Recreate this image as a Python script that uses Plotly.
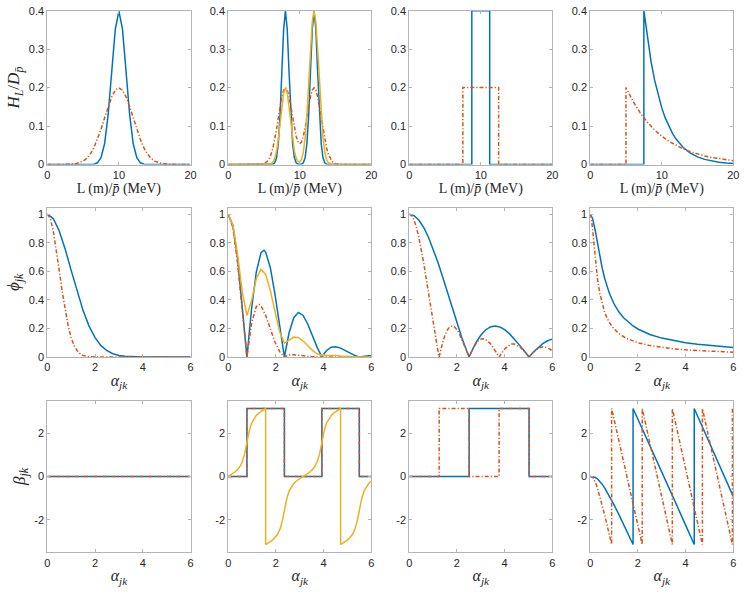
import plotly.graph_objects as go
from plotly.subplots import make_subplots

# ---------------- data ----------------
PI = 3.1416

# Row 1, col 1 : single Gaussians
L11 = [0, 2, 4, 5, 5.5, 6, 6.5, 7, 7.5, 8, 8.5, 9, 9.5, 10, 10.5, 11, 11.5, 12,
       12.5, 13, 13.5, 14, 14.5, 15, 16, 18, 20]
H11_blue = [0, 0, 0, 0, 0, 0.0001, 0.0009, 0.0044, 0.0175, 0.054, 0.1295, 0.242, 0.352,
            0.399, 0.352, 0.242, 0.1295, 0.054, 0.0175, 0.0044, 0.0009, 0.0001, 0, 0, 0, 0, 0]
H11_orange = [0, 0.0001, 0.0022, 0.0088, 0.0159, 0.027, 0.0432, 0.0648, 0.0913, 0.121,
              0.1506, 0.176, 0.1934, 0.1995, 0.1934, 0.176, 0.1506, 0.121, 0.0913, 0.0648,
              0.0432, 0.027, 0.0159, 0.0088, 0.0022, 0.0001, 0]

# Row 1, col 2 : double Gaussians
L12 = [0, 4, 5, 5.25, 5.5, 5.75, 6, 6.25, 6.5, 6.75, 7, 7.25, 7.5, 7.75, 8, 8.25, 8.5,
       8.75, 9, 9.25, 9.5, 9.75, 10, 10.25, 10.5, 10.75, 11, 11.25, 11.5, 11.75, 12,
       12.25, 12.5, 12.75, 13, 13.25, 13.5, 13.75, 14, 14.25, 14.5, 14.75, 15, 16, 20]
H12_blue = [0, 0, 0, 0, 0, 0, 0.0001, 0.0009, 0.0044, 0.0175, 0.054, 0.1295, 0.242, 0.352,
            0.399, 0.352, 0.242, 0.1295, 0.054, 0.0175, 0.0044, 0.0009, 0.0003, 0.0009,
            0.0044, 0.0175, 0.054, 0.1295, 0.242, 0.352, 0.399, 0.352, 0.242, 0.1295,
            0.054, 0.0175, 0.0044, 0.0009, 0.0001, 0, 0, 0, 0, 0, 0]
H12_orange = [0, 0.0001, 0.0022, 0.0045, 0.0088, 0.0159, 0.027, 0.0432, 0.0648, 0.0913,
              0.121, 0.1506, 0.1761, 0.1933, 0.1996, 0.1935, 0.1765, 0.1516, 0.1232,
              0.0958, 0.0736, 0.0591, 0.054, 0.0591, 0.0736, 0.0958, 0.1232, 0.1516,
              0.1765, 0.1935, 0.1996, 0.1933, 0.1761, 0.1506, 0.121, 0.0913, 0.0648,
              0.0432, 0.027, 0.0159, 0.0088, 0.0045, 0.0022, 0.0001, 0]
H12_yellow = [0, 0, 0, 0, 0.0002, 0.0007, 0.0022, 0.0064, 0.0159, 0.0344, 0.0648, 0.106,
              0.1506, 0.186, 0.1995, 0.186, 0.1506, 0.106, 0.0648, 0.0345, 0.0163, 0.0077,
              0.0066, 0.0134, 0.032, 0.0688, 0.1296, 0.212, 0.301, 0.372, 0.399, 0.372,
              0.301, 0.212, 0.1296, 0.0688, 0.0318, 0.0127, 0.0044, 0.0013, 0.0004, 0.0001,
              0, 0, 0]

# Row 1, col 3 : boxes
L13_blue = [0, 8.75, 8.75, 11.25, 11.25, 20]
H13_blue = [0, 0, 0.4, 0.4, 0, 0]
L13_orange = [0, 7.5, 7.5, 12.5, 12.5, 20]
H13_orange = [0, 0, 0.2, 0.2, 0, 0]

# Row 1, col 4 : exponentials
L14_blue = [0, 7.5, 7.5, 8, 8.5, 9, 9.5, 10, 10.5, 11, 11.5, 12, 13, 14, 15, 16, 17, 18, 19, 20]
H14_blue = [0, 0, 0.4, 0.3275, 0.2681, 0.2195, 0.1797, 0.1472, 0.1205, 0.0986, 0.0808,
            0.0661, 0.0443, 0.0297, 0.0199, 0.0133, 0.0089, 0.006, 0.004, 0.0027]
L14_orange = [0, 5, 5, 6, 7, 8, 9, 10, 11, 12, 13, 14, 15, 16, 17, 18, 19, 20]
H14_orange = [0, 0, 0.2, 0.1637, 0.1341, 0.1098, 0.0899, 0.0736, 0.0602, 0.0493, 0.0404,
              0.0331, 0.0271, 0.0222, 0.0181, 0.0149, 0.0122, 0.01]

# Row 2, col 1
A21_blue = [0, 0.25, 0.5, 0.75, 1, 1.25, 1.5, 1.75, 2, 2.25, 2.5, 2.75, 3, 3.25, 3.5, 4, 5, 6]
P21_blue = [1, 0.9692, 0.8825, 0.7548, 0.6065, 0.4578, 0.3247, 0.2163, 0.1353, 0.0796,
            0.0439, 0.0228, 0.0111, 0.0051, 0.0022, 0.0003, 0, 0]
A21_orange = [0, 0.125, 0.25, 0.375, 0.5, 0.625, 0.75, 0.875, 1, 1.125, 1.25, 1.375, 1.5,
              1.75, 2, 3, 6]
P21_orange = [1, 0.9692, 0.8825, 0.7548, 0.6065, 0.4578, 0.3247, 0.2163, 0.1353, 0.0796,
              0.0439, 0.0228, 0.0111, 0.0022, 0.0003, 0, 0]

# Row 2, col 2
A22_blue = [0, 0.1963, 0.3927, 0.589, 0.7854, 0.9817, 1.1781, 1.3744, 1.5, 1.5708, 1.7671,
            1.9635, 2.1598, 2.3562, 2.5525, 2.7489, 2.9452, 3.1416, 3.3379, 3.5343, 3.7306,
            3.927, 4.1233, 4.3197, 4.516, 4.7124, 4.9087, 5.1051, 5.3014, 5.4978, 5.6941,
            5.8905, 6.0]
P22_blue = [1, 0.9195, 0.6936, 0.3665, 0, 0.3393, 0.5945, 0.7296, 0.747, 0.7346, 0.6253,
            0.4367, 0.2136, 0, 0.1695, 0.275, 0.3124, 0.2912, 0.2295, 0.1484, 0.0672, 0,
            0.0457, 0.0687, 0.0722, 0.0623, 0.0455, 0.0272, 0.0114, 0, 0.0067, 0.0093, 0.0094]
A22_orange = [0, 0.1963, 0.3927, 0.589, 0.7854, 0.9817, 1.1781, 1.3, 1.3744, 1.5708, 1.7671,
              1.9635, 2.1598, 2.3562, 2.5525, 2.7489, 2.9452, 3.1416, 3.3379, 3.5343, 3.7306,
              3.927, 4.1233, 4.3197, 4.516, 4.7124, 4.9087, 5.1051, 5.3014, 5.4978, 5.6941,
              5.8905, 6.0]
P22_orange = [1, 0.9063, 0.6546, 0.3217, 0, 0.2364, 0.3533, 0.3681, 0.3593, 0.2912, 0.1938,
              0.1029, 0.0372, 0, 0.0147, 0.0162, 0.0121, 0.0072, 0.0035, 0.0013, 0.0004, 0,
              0, 0, 0, 0, 0, 0, 0, 0, 0, 0, 0]
A22_yellow = [0, 0.1963, 0.3927, 0.589, 0.7854, 0.9817, 1.1781, 1.3744, 1.5708, 1.7671,
              1.9635, 2.1598, 2.3562, 2.5525, 2.7489, 2.9452, 3.1416, 3.3379, 3.5343, 3.7306,
              3.927, 4.1233, 4.3197, 4.516, 4.7124, 4.9087, 5.1051, 5.3014, 5.4978, 5.6941,
              5.8905, 6.0]
P22_yellow = [1, 0.9248, 0.7203, 0.4548, 0.2906, 0.3965, 0.5476, 0.613, 0.5779, 0.466,
              0.3164, 0.1742, 0.0971, 0.1155, 0.139, 0.1357, 0.1115, 0.0784, 0.0464, 0.0223,
              0.0108, 0.0112, 0.0118, 0.0101, 0.0072, 0.0044, 0.0023, 0.0009, 0.0004, 0.0004,
              0.0004, 0.0003]

# Row 2, col 3
A23_blue = [0, 0.2, 0.4, 0.6, 0.8, 1.0, 1.2, 1.4, 1.6, 1.8, 2.0, 2.2, 2.4, 2.5133, 2.6, 2.8,
            3.0, 3.2, 3.4, 3.6, 3.8, 4.0, 4.2, 4.4, 4.6, 4.8, 5.0265, 5.2, 5.4, 5.6, 5.8, 6.0]
P23_blue = [1, 0.9896, 0.9589, 0.9089, 0.8415, 0.7592, 0.665, 0.5623, 0.4546, 0.3458, 0.2394,
            0.1388, 0.047, 0, 0.0333, 0.1002, 0.1524, 0.1892, 0.2106, 0.2172, 0.2104, 0.1918,
            0.1636, 0.1283, 0.0884, 0.0466, 0, 0.0331, 0.0667, 0.0939, 0.1135, 0.1251]
A23_orange = [0, 0.1, 0.2, 0.3, 0.4, 0.5, 0.6, 0.7, 0.8, 0.9, 1.0, 1.1, 1.2, 1.2566,
              1.3, 1.4, 1.5, 1.6, 1.7, 1.8, 1.9, 2.0, 2.1, 2.2, 2.3, 2.4, 2.5133,
              2.6, 2.7, 2.8, 2.9, 3.0, 3.1, 3.2, 3.3, 3.4, 3.5, 3.6, 3.7, 3.7699,
              3.8, 3.9, 4.0, 4.1, 4.2, 4.3, 4.4, 4.5, 4.6, 4.7, 4.8, 4.9, 5.0, 5.0265,
              5.1, 5.2, 5.3, 5.4, 5.5, 5.6, 5.7, 5.8, 5.9, 6.0]
P23_orange = [1, 0.9896, 0.9589, 0.9089, 0.8415, 0.7592, 0.665, 0.5623, 0.4546, 0.3458,
              0.2394, 0.1388, 0.047, 0,
              0.0333, 0.1002, 0.1524, 0.1892, 0.2106, 0.2172, 0.2104, 0.1918, 0.1636, 0.1283,
              0.0884, 0.0466, 0,
              0.0331, 0.0667, 0.0939, 0.1135, 0.1251, 0.1283, 0.1237, 0.1118, 0.0939, 0.0714,
              0.0458, 0.0188, 0,
              0.0079, 0.0328, 0.0544, 0.0717, 0.0838, 0.0902, 0.0909, 0.086, 0.0761, 0.062,
              0.0447, 0.0254, 0.0053, 0,
              0.0143, 0.0323, 0.0477, 0.0595, 0.0673, 0.0708, 0.0697, 0.0645, 0.0555, 0.0434]

# Row 2, col 4
A24_blue = [0, 0.1, 0.2, 0.3, 0.4, 0.5, 0.6, 0.7, 0.8, 1.0, 1.2, 1.4, 1.6, 1.8, 2.0, 2.5,
            3.0, 3.5, 4.0, 4.5, 5.0, 5.5, 6.0]
P24_blue = [1, 0.9701, 0.8944, 0.8, 0.7071, 0.6247, 0.5547, 0.4961, 0.4472, 0.3714, 0.3162,
            0.2747, 0.2425, 0.2169, 0.1961, 0.158, 0.1322, 0.1135, 0.0995, 0.0885, 0.0797,
            0.0725, 0.0665]
A24_orange = [0, 0.05, 0.1, 0.15, 0.2, 0.25, 0.3, 0.4, 0.5, 0.6, 0.7, 0.8, 1.0, 1.25, 1.5,
              2.0, 2.5, 3.0, 3.5, 4.0, 5.0, 6.0]
P24_orange = [1, 0.9701, 0.8944, 0.8, 0.7071, 0.6247, 0.5547, 0.4472, 0.3714, 0.3162,
              0.2747, 0.2425, 0.1961, 0.158, 0.1322, 0.0995, 0.0797, 0.0665, 0.0571, 0.0499,
              0.04, 0.0333]

# Row 3, col 1
A31 = [0, 6]
B31_blue = [0, 0]
B31_orange = [0, 0]

# Row 3, col 2
A32_step = [0, 0.7854, 0.7854, 2.3562, 2.3562, 3.927, 3.927, 5.4978, 5.4978, 6]
B32_step = [0, 0, PI, PI, 0, 0, PI, PI, 0, 0]
A32_yellow = [0, 0.0982, 0.1963, 0.2945, 0.3927, 0.4909, 0.589, 0.6872, 0.7854, 0.8836,
              0.9817, 1.0799, 1.1781, 1.2763, 1.3744, 1.4726, 1.5708, 1.5708, 1.669, 1.7671,
              1.8653, 1.9635, 2.0617, 2.1598, 2.258, 2.3562, 2.4544, 2.5525, 2.6507, 2.7489,
              2.8471, 2.9452, 3.0434, 3.1416, 3.2398, 3.3379, 3.4361, 3.5343, 3.6325, 3.7306,
              3.8288, 3.927, 4.0252, 4.1233, 4.2215, 4.3197, 4.4179, 4.516, 4.6142, 4.7124,
              4.7124, 4.8106, 4.9087, 5.0069, 5.1051, 5.2033, 5.3014, 5.3996, 5.4978, 5.596,
              5.6941, 5.7923, 5.8905, 5.9887, 6.0]
B32_yellow = [0, 0.0662, 0.1372, 0.2191, 0.3218, 0.4627, 0.6778, 1.0327, 1.5708, 2.1089,
              2.4638, 2.6789, 2.8198, 2.9225, 3.0044, 3.0754, 3.1416, -3.1416, -3.0754,
              -3.0044, -2.9225, -2.8198, -2.6789, -2.4638, -2.1089, -1.5708, -1.0327, -0.6778,
              -0.4627, -0.3218, -0.2191, -0.1372, -0.0662, 0, 0.0662, 0.1372, 0.2191, 0.3218,
              0.4627, 0.6778, 1.0327, 1.5708, 2.1089, 2.4638, 2.6789, 2.8198, 2.9225, 3.0044,
              3.0754, 3.1416, -3.1416, -3.0754, -3.0044, -2.9225, -2.8198, -2.6789, -2.4638,
              -2.1089, -1.5708, -1.0327, -0.6778, -0.4627, -0.3218, -0.2191, -0.2085]

# Row 3, col 3
A33_blue = [0, 2.5133, 2.5133, 5.0265, 5.0265, 6]
B33_blue = [0, 0, PI, PI, 0, 0]
A33_orange = [0, 1.2566, 1.2566, 2.5133, 2.5133, 3.7699, 3.7699, 5.0265, 5.0265, 6]
B33_orange = [0, 0, PI, PI, 0, 0, PI, PI, 0, 0]

# Row 3, col 4
A34_blue = [0, 0.1, 0.2, 0.3, 0.4, 0.5, 0.6, 0.8, 1.0, 1.2, 1.4, 1.6, 1.7974, 1.7974, 2.0,
            2.5, 3.0, 3.5, 4.0, 4.3617, 4.3617, 4.5, 5.0, 5.5, 6.0]
B34_blue = [0, -0.005, -0.0364, -0.1065, -0.2146, -0.3539, -0.5172, -0.8929, -1.3097,
            -1.751, -2.2075, -2.6742, -PI, PI, 2.6566, 1.4452, 0.2214, -1.0098, -2.2457,
            -PI, PI, 2.7986, 1.5573, 0.3146, -0.9294]
A34_orange = [0, 0.05, 0.1, 0.15, 0.2, 0.25, 0.3, 0.4, 0.5, 0.6, 0.7, 0.8, 0.8987, 0.8987,
              1.0, 1.25, 1.5, 1.75, 2.0, 2.1809, 2.1809, 2.25, 2.5, 2.75, 3.0, 3.25, 3.4442,
              3.4442, 3.5, 4.0, 4.5, 4.7039, 4.7039, 5.0, 5.5, 5.9623, 5.9623, 6.0]
B34_orange = [0, -0.005, -0.0364, -0.1065, -0.2146, -0.3539, -0.5172, -0.8929, -1.3097,
              -1.751, -2.2075, -2.6742, -PI, PI, 2.6566, 1.4452, 0.2214, -1.0098, -2.2457,
              -PI, PI, 2.7986, 1.5573, 0.3146, -0.9294, -2.1743, -PI, PI, 2.8633, 0.3704,
              -2.124, -PI, PI, 1.6635, -0.8329, -PI, PI, 2.9534]

# tick labels
TOP_XT = [0, 10, 20]
TOP_YT = [0, 0.1, 0.2, 0.3, 0.4]
MID_YT = [0, 0.2, 0.4, 0.6, 0.8, 1]
AL_XT = [0, 2, 4, 6]
BOT_YT = [-2, 0, 2]
BOT_YT_TEXT = ["-2", "0", "2"]

# ---------------- styling ----------------
BLUE = "#0072BD"
ORANGE = "#D95319"
YELLOW = "#EDB120"
DASHDOT = "4px,2px,1.2px,2px"
LW = 1.5

fig = make_subplots(rows=3, cols=4)


def add(x, y, color, r, c, dash=None, width=LW):
    fig.add_trace(go.Scatter(x=x, y=y, mode="lines",
                             line=dict(color=color, width=width, dash=dash),
                             hoverinfo="skip", showlegend=False), row=r, col=c)


add(L11, H11_blue, BLUE, 1, 1)
add(L11, H11_orange, ORANGE, 1, 1, DASHDOT)
add(L12, H12_blue, BLUE, 1, 2)
add(L12, H12_orange, ORANGE, 1, 2, DASHDOT)
add(L12, H12_yellow, YELLOW, 1, 2)
add(L13_blue, H13_blue, BLUE, 1, 3)
add(L13_orange, H13_orange, ORANGE, 1, 3, DASHDOT)
add(L14_blue, H14_blue, BLUE, 1, 4)
add(L14_orange, H14_orange, ORANGE, 1, 4, DASHDOT)

add(A21_blue, P21_blue, BLUE, 2, 1)
add(A21_orange, P21_orange, ORANGE, 2, 1, DASHDOT)
add(A22_blue, P22_blue, BLUE, 2, 2)
add(A22_orange, P22_orange, ORANGE, 2, 2, DASHDOT)
add(A22_yellow, P22_yellow, YELLOW, 2, 2)
add(A23_blue, P23_blue, BLUE, 2, 3)
add(A23_orange, P23_orange, ORANGE, 2, 3, DASHDOT)
add(A24_blue, P24_blue, BLUE, 2, 4)
add(A24_orange, P24_orange, ORANGE, 2, 4, DASHDOT)

add(A31, B31_blue, BLUE, 3, 1)
add(A31, B31_orange, ORANGE, 3, 1, DASHDOT)
add(A32_step, B32_step, BLUE, 3, 2)
add(A32_step, B32_step, ORANGE, 3, 2, DASHDOT)
add(A32_yellow, B32_yellow, YELLOW, 3, 2)
add(A33_blue, B33_blue, BLUE, 3, 3)
add(A33_orange, B33_orange, ORANGE, 3, 3, DASHDOT)
add(A34_blue, B34_blue, BLUE, 3, 4)
add(A34_orange, B34_orange, ORANGE, 3, 4, DASHDOT)

# The page body margin is removed by a post-script, so the figure fills the window.
W, H = 747, 592
col_px = [(47.3, 190.5), (228.2, 371.3), (409.2, 552.3), (590.2, 733.3)]
row_px = [(10.7, 164.5), (207.7, 357.0), (400.7, 552.3)]

FRAME = "#b4b4b4"
TICKF = dict(family="Liberation Sans, Arial, sans-serif", size=11, color="#262626")
SERIF = "Liberation Serif, Times New Roman, serif"

for r in range(3):
    for c in range(4):
        x0, x1 = col_px[c]
        yt, yb = row_px[r]
        common = dict(showline=True, linecolor=FRAME, linewidth=1, mirror="ticks",
                      ticks="inside", ticklen=3, tickcolor=FRAME, tickwidth=1,
                      showgrid=False, zeroline=False, tickfont=TICKF, fixedrange=True,
                      automargin=False, ticklabeloverflow="allow")
        if r == 0:
            xa = dict(range=[0, 20], tickvals=TOP_XT,
                      title=dict(text="L (m)/<i>p̄</i> (MeV)",
                                 font=dict(family=SERIF, size=14, color="#262626"),
                                 standoff=1))
            ya = dict(range=[0, 0.4], tickvals=TOP_YT)
            ytitle = "<i>H<sub>L</sub></i>/<i>D<sub>p̄</sub></i>"
        elif r == 1:
            xa = dict(range=[0, 6], tickvals=AL_XT,
                      title=dict(text="<i>α<sub>jk</sub></i>",
                                 font=dict(family=SERIF, size=16, color="#262626"),
                                 standoff=2))
            ya = dict(range=[0, 1.045], tickvals=MID_YT)
            ytitle = "<i>ϕ<sub>jk</sub></i>"
        else:
            xa = dict(range=[0, 6], tickvals=AL_XT,
                      title=dict(text="<i>α<sub>jk</sub></i>",
                                 font=dict(family=SERIF, size=16, color="#262626"),
                                 standoff=2))
            ya = dict(range=[-3.5, 3.5], tickvals=BOT_YT, ticktext=BOT_YT_TEXT)
            ytitle = "<i>β<sub>jk</sub></i>"
        if c == 0:
            ya["title"] = dict(text=ytitle, font=dict(family=SERIF, size=17, color="#262626"),
                               standoff=4)
        fig.update_xaxes(domain=[x0 / W, x1 / W], **common, **xa, row=r + 1, col=c + 1)
        fig.update_yaxes(domain=[1 - yb / H, 1 - yt / H], **common, **ya, row=r + 1, col=c + 1)

fig.update_layout(width=W, height=H, margin=dict(l=0, r=0, t=0, b=0, autoexpand=False),
                  paper_bgcolor="white", plot_bgcolor="white", showlegend=False,
                  hovermode=False)

fig.write_html("out.html",
               config={"displayModeBar": False, "staticPlot": True},
               post_script="document.body.style.margin='0px';"
                           "document.body.style.overflow='hidden';")
